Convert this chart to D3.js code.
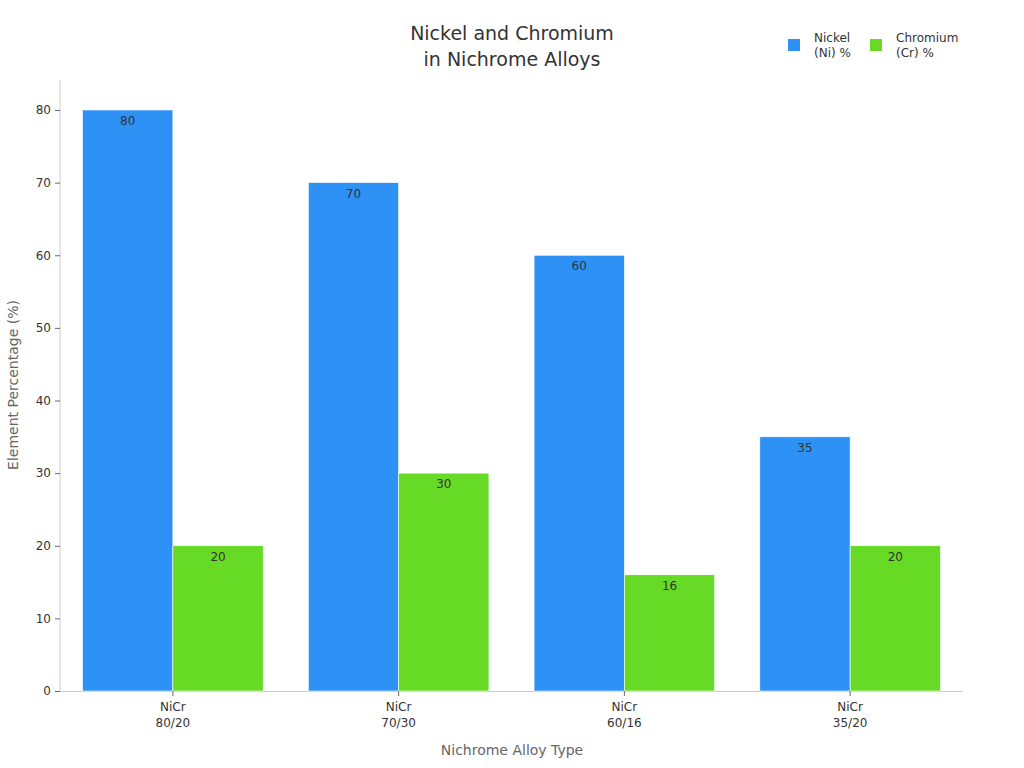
<!DOCTYPE html>
<html><head><meta charset="utf-8">
<script src="https://cdn.jsdelivr.net/npm/d3@7"></script>
<style>body{margin:0;background:#fff;font-family:"DejaVu Sans",sans-serif}</style>
</head><body><svg id="c" width="1024" height="768"></svg>
<script>
const categories = [["NiCr","80/20"],["NiCr","70/30"],["NiCr","60/16"],["NiCr","35/20"]];
const nickel = [80,70,60,35];
const chromium = [20,30,16,20];
const seriesNames = [["Nickel","(Ni) %"],["Chromium","(Cr) %"]];
const yTicks = [0,10,20,30,40,50,60,70,80];
const colors = ["#2e91f6","#67da26"];

const svg = d3.select("#c");
const L=60,R=963,T=80,B=691;
const x = d3.scaleBand().domain(d3.range(categories.length)).range([L,R]).paddingInner(0.2).paddingOuter(0.1);
const y = d3.scaleLinear().domain([0,80]).range([B,110]);
const xs = d3.scaleBand().domain([0,1]).range([0,x.bandwidth()]);

svg.append("text").attr("x",512).attr("y",40).attr("text-anchor","middle").attr("font-size",19).attr("fill","#333").text("Nickel and Chromium");
svg.append("text").attr("x",512).attr("y",66).attr("text-anchor","middle").attr("font-size",19).attr("fill","#333").text("in Nichrome Alloys");

const ya = svg.append("g").attr("transform",`translate(${L},0)`).call(d3.axisLeft(y).tickValues(yTicks).tickSize(5).tickPadding(4));
ya.select(".domain").attr("d",`M0,${T}V${B}`).attr("stroke","#ccc");
ya.selectAll(".tick line").attr("stroke","#666");
ya.selectAll("text").attr("font-size",12).attr("fill","#333").attr("font-family","DejaVu Sans");

svg.append("line").attr("x1",L).attr("x2",R).attr("y1",B+0.5).attr("y2",B+0.5).attr("stroke","#ccc");

const data=[nickel,chromium];
data.forEach((vals,s)=>{
  vals.forEach((v,i)=>{
    const bx=x(i)+xs(s);
    svg.append("rect").attr("x",bx).attr("y",y(v)).attr("width",xs.bandwidth()).attr("height",B-y(v)).attr("fill",colors[s]).attr("stroke","#fff").attr("stroke-width",0.6);
    svg.append("text").attr("x",bx+xs.bandwidth()/2).attr("y",y(v)+15).attr("text-anchor","middle").attr("font-size",12).attr("fill","#333").text(v);
  });
});

categories.forEach((c,i)=>{
  const cx=x(i)+x.bandwidth()/2;
  svg.append("line").attr("x1",cx).attr("x2",cx).attr("y1",B).attr("y2",B+5).attr("stroke","#666");
  c.forEach((t,k)=>svg.append("text").attr("x",cx).attr("y",711+k*16).attr("text-anchor","middle").attr("font-size",12).attr("fill","#333").text(t));
});

svg.append("text").attr("x",512).attr("y",755).attr("text-anchor","middle").attr("font-size",14).attr("fill","#666").text("Nichrome Alloy Type");
svg.append("text").attr("transform","translate(18,385) rotate(-90)").attr("text-anchor","middle").attr("font-size",14).attr("fill","#666").text("Element Percentage (%)");

const lx=[788,870];
seriesNames.forEach((n,s)=>{
  svg.append("rect").attr("x",lx[s]).attr("y",39).attr("width",12).attr("height",12).attr("fill",colors[s]);
  n.forEach((t,k)=>svg.append("text").attr("x",lx[s]+26).attr("y",42+k*15).attr("font-size",12).attr("fill","#333").text(t));
});
</script></body></html>
